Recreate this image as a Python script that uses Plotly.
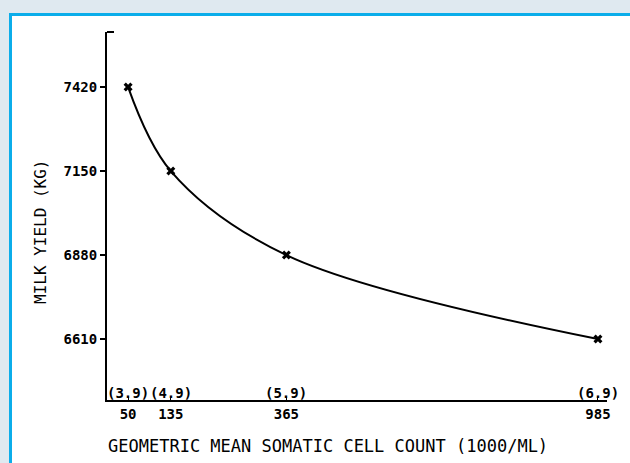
import plotly.graph_objects as go

# Data
scc = [50, 135, 365, 985]              # geometric mean SCC (1000/ml)
milk_yield = [7420, 7150, 6880, 6610]   # kg
linear_score = ["(3.9)", "(4.9)", "(5.9)", "(6.9)"]
x_tick_labels = ["50", "135", "365", "985"]
y_ticks = [6610, 6880, 7150, 7420]

W, H = 630, 463
L, R, T, B = 107, 23, 32, 63
pw, ph = W - L - R, H - T - B

def px_x(p):
    return (p - L) / pw

def px_y(p):
    return (H - B - p) / ph

mono = "DejaVu Sans Mono"

fig = go.Figure()
fig.add_trace(go.Scatter(
    x=scc, y=milk_yield,
    mode="lines+markers",
    line=dict(color="black", width=2, shape="spline", smoothing=1.0),
    marker=dict(symbol="x", size=8, color="black"),
    showlegend=False,
    cliponaxis=False,
))

annotations = []
for xv, lab in zip(scc, linear_score):
    annotations.append(dict(
        x=xv, xref="x", y=px_y(393), yref="paper",
        text=lab, showarrow=False, xanchor="center", yanchor="middle",
        font=dict(family=mono, size=14, color="black", weight="bold"),
    ))
annotations.append(dict(
    x=px_x(106), xref="paper", y=px_y(446), yref="paper",
    text="GEOMETRIC MEAN SOMATIC CELL COUNT (1000/ML)", showarrow=False,
    xanchor="left", yanchor="middle",
    font=dict(family=mono, size=17, color="black"),
))
annotations.append(dict(
    x=px_x(40), xref="paper", y=px_y(232), yref="paper",
    text="MILK YIELD (KG)", showarrow=False, textangle=-90,
    xanchor="center", yanchor="middle",
    font=dict(family=mono, size=16, color="black"),
))

shapes = [
    # white panel with blue border
    dict(type="rect", xref="paper", yref="paper",
         x0=px_x(10.5), x1=px_x(660), y0=px_y(14.5), y1=px_y(480),
         fillcolor="white", line=dict(color="#0badea", width=3), layer="below"),
    # hook at top of y axis
    dict(type="line", xref="paper", yref="paper",
         x0=0, x1=px_x(114), y0=px_y(32), y1=px_y(32),
         line=dict(color="black", width=2)),
]

fig.update_layout(
    width=W, height=H,
    margin=dict(l=L, r=R, t=T, b=B),
    paper_bgcolor="#dfe9f0",
    plot_bgcolor="white",
    annotations=annotations,
    shapes=shapes,
    xaxis=dict(
        range=[8, 1003], tickvals=scc, ticktext=x_tick_labels,
        showline=True, linecolor="black", linewidth=2,
        ticks="inside", ticklen=3, tickcolor="black", tickwidth=1,
        showgrid=False, zeroline=False,
        tickfont=dict(family=mono, size=14, color="black", weight="bold"),
    ),
    yaxis=dict(
        range=[6414, 7597], tickvals=y_ticks,
        showline=True, linecolor="black", linewidth=2,
        ticks="outside", ticklen=5, tickcolor="black", tickwidth=2,
        showgrid=False, zeroline=False,
        tickfont=dict(family=mono, size=14, color="black", weight="bold"),
    ),
)

fig.write_html(
    "out.html",
    config={"displayModeBar": False},
    post_script="document.body.style.margin='0';document.body.style.overflow='hidden';",
)
